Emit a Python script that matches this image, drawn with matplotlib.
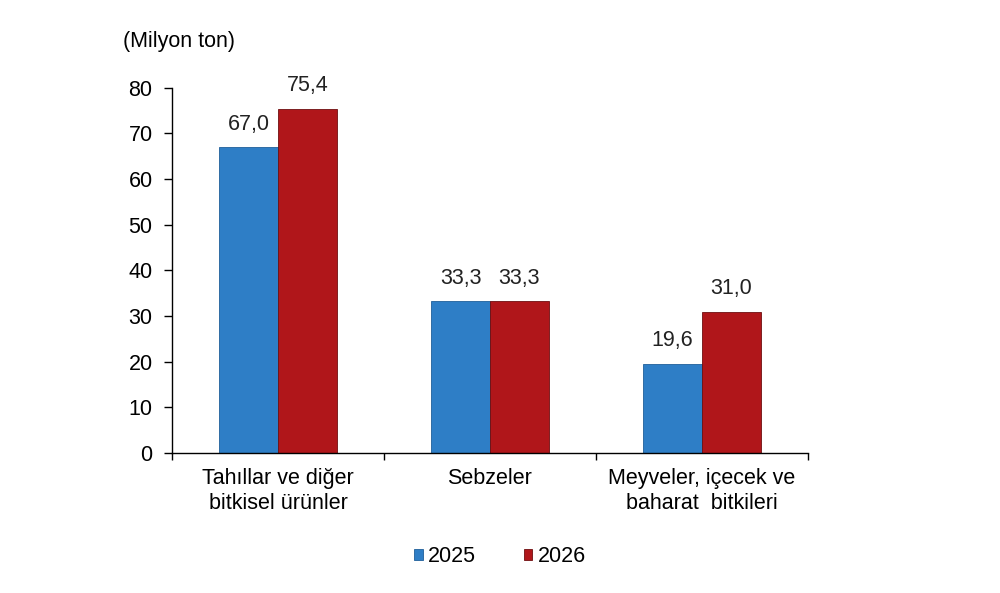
import matplotlib
matplotlib.use("Agg")
import matplotlib.pyplot as plt
import numpy as np

categories = ["Tahıllar ve diğer\nbitkisel ürünler", "Sebzeler", "Meyveler, içecek ve\nbaharat  bitkileri"]
series_names = ["2025", "2026"]
values_2025 = [67.0, 33.3, 19.6]
values_2026 = [75.4, 33.3, 31.0]
yticks = [0, 10, 20, 30, 40, 50, 60, 70, 80]

plt.rcParams['font.family'] = ['Liberation Sans', 'DejaVu Sans']
FS = 15.5

fig = plt.figure(figsize=(10, 5.93), dpi=100)
ax = fig.add_axes([0.172, 0.236, 0.636, 0.616])

x = np.arange(len(categories))
w = 0.278
c1, c2 = "#2E7EC6", "#B0161A"
b1 = ax.bar(x - w/2, values_2025, w, color=c1, edgecolor="#1F5F9A", linewidth=0.6, label=series_names[0])
b2 = ax.bar(x + w/2, values_2026, w, color=c2, edgecolor="#6E0E10", linewidth=0.6, label=series_names[1])

for bars, vals in ((b1, values_2025), (b2, values_2026)):
    for r, v in zip(bars, vals):
        ax.annotate(f"{v:.1f}".replace(".", ","), (r.get_x() + r.get_width()/2, v),
                    xytext=(0, 9), textcoords="offset points", ha="center", va="bottom",
                    fontsize=FS, color="#222222")

ax.set_xlim(-0.5, len(categories) - 0.5)
ax.set_ylim(0, 80)
ax.set_yticks(yticks)
ax.set_yticklabels([str(t) for t in yticks], fontsize=FS)
ax.set_xticks(x)
ax.set_xticklabels(categories, fontsize=FS, linespacing=1.2)
ax.tick_params(axis='x', length=0, pad=11)
ax.set_xticks(np.arange(len(categories) + 1) - 0.5, minor=True)
ax.tick_params(axis='x', which='minor', length=5, direction='out', width=1)
ax.tick_params(axis='y', length=6, direction='out', width=1, pad=8)
for s in ("top", "right"):
    ax.spines[s].set_visible(False)
ax.spines['left'].set_linewidth(1)
ax.spines['bottom'].set_linewidth(1)

ax.text(-0.077, 1.112, "(Milyon ton)", transform=ax.transAxes, fontsize=FS, ha="left", va="baseline")

fig.legend(handles=[b1, b2], labels=series_names, loc="center", bbox_to_anchor=(0.5, 0.061),
           ncol=2, frameon=False, fontsize=FS, handlelength=0.4, handleheight=0.4,
           handletextpad=0.25, columnspacing=2.2)

fig.savefig("out.png", dpi=100, facecolor="white")
